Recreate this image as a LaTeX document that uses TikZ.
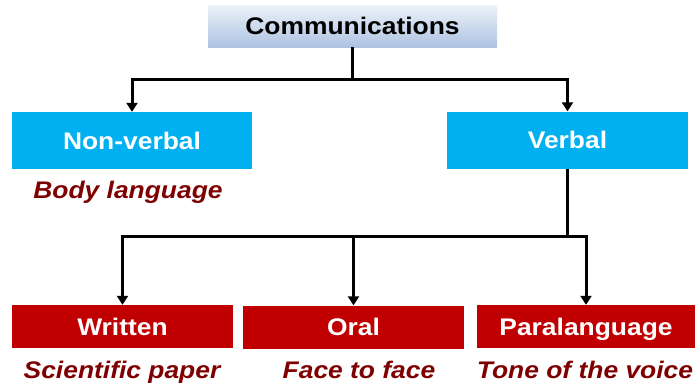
\documentclass[tikz,border=0pt]{standalone}
\usepackage{fontspec}
\setmainfont{Liberation Sans}[FakeStretch=1.1]
\usetikzlibrary{arrows.meta}
\definecolor{cyanbox}{HTML}{00B0F0}
\definecolor{redbox}{HTML}{C00000}
\definecolor{labred}{HTML}{7F0000}
\definecolor{topA}{HTML}{EDF2F9}
\definecolor{topB}{HTML}{AEC3E2}
\tikzset{
  box/.style={inner sep=0pt, text height=17.2pt, text depth=0pt, font=\fontsize{24}{28}\selectfont\bfseries},
  topbox/.style={box, top color=topA, bottom color=topB, text=black, minimum width=289pt, minimum height=42pt},
  bluebox/.style={box, fill=cyanbox, text=white, minimum width=240pt, minimum height=57pt},
  redbx/.style={box, fill=redbox, text=white, minimum width=221pt, minimum height=43pt},
  lab/.style={inner sep=0pt, anchor=base, text=labred, font=\fontsize{24}{28}\selectfont\bfseries\itshape},
  conn/.style={line width=3pt, black},
  arr/.style={conn, -{Triangle[width=11pt,length=9pt]}}
}
\begin{document}
\begin{tikzpicture}[x=1pt,y=-1pt]
\useasboundingbox (0,0) rectangle (695,391);
\node[topbox] (top) at (352.5,26) {Communications};
\node[bluebox] (nv) at (132,140.5) {Non-verbal};
\node[bluebox, minimum width=241pt] (vb) at (567.5,140) {Verbal};
\node[redbx] (wr) at (122.5,326.5) {Written};
\node[redbx] (or) at (353.5,327) {Oral};
\node[redbx, minimum width=218pt] (pa) at (586,326.5) {Paralanguage};
\node[lab] (l1) at (128,198) {Body language};
\node[lab] (l2) at (122,378) {Scientific paper};
\node[lab] (l3) at (359,378.5) {Face to face};
\node[lab] (l4) at (585,378.5) {Tone of the voice};
\coordinate (j1) at (352.5,79);
\coordinate (j2) at (567.5,236);
\draw[conn] (top.south) -- (j1);
\draw[arr] (j1) -| (nv.north);
\draw[arr] (j1) -| (vb.north);
\draw[conn] (vb.south) -- (j2);
\draw[arr] (j2) -| (wr.north);
\draw[arr] (or.north |- j2) -- (or.north);
\draw[arr] (j2) -| (pa.north);
\end{tikzpicture}
\end{document}
